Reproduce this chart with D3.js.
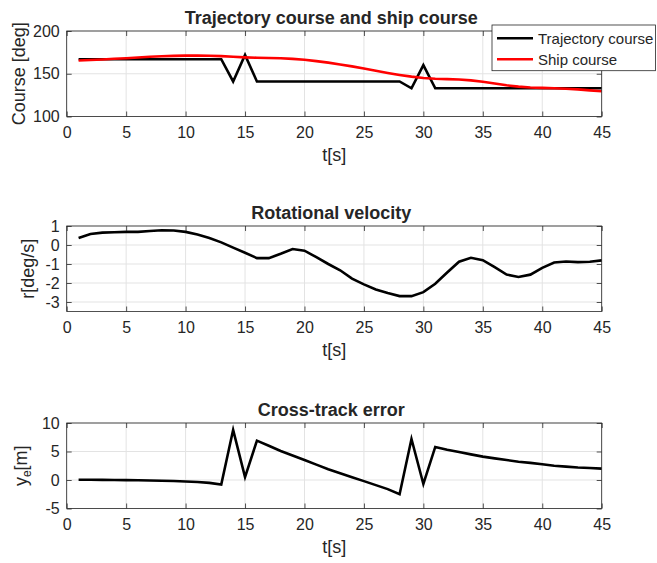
<!DOCTYPE html>
<html>
<head>
<meta charset="utf-8">
<script src="https://cdn.jsdelivr.net/npm/d3@7"></script>
<style>
  html, body { margin: 0; padding: 0; background: #fff; }
  svg { display: block; }
  text { font-family: "Liberation Sans", Arial, Helvetica, sans-serif; fill: #262626; }
</style>
</head>
<body>
<script>
// ---- data ----
const time = d3.range(1, 46); // t = 1..45 s
const trajectoryCourse = [167,167,167,167,167,167,167,167,167,167,167,167,167,141,172,141,141,141,141,141,141,141,141,141,141,141,141,141,133,160,133,133,133,133,133,133,133,133,133,133,133,133,133,133,133];
const shipCourse = [165.5,166,166.7,167.5,168.2,169,169.8,170.4,170.9,171.2,171.2,171,170.6,169.9,169.2,168.7,168.4,168.1,167.4,166.3,164.8,163,160.9,158.6,156.1,153.5,150.9,148.6,146.6,145,144.1,143.7,143.2,142.3,140.7,138.6,136.5,134.9,134,133.5,133.1,132.5,131.7,130.6,129.5];
const rotVel = [0.37,0.58,0.65,0.67,0.69,0.69,0.74,0.78,0.76,0.69,0.55,0.37,0.14,-0.14,-0.41,-0.69,-0.69,-0.46,-0.21,-0.30,-0.64,-1.0,-1.33,-1.77,-2.07,-2.34,-2.53,-2.69,-2.69,-2.48,-2.04,-1.45,-0.88,-0.67,-0.80,-1.17,-1.56,-1.68,-1.56,-1.20,-0.92,-0.87,-0.90,-0.88,-0.81];
const crossTrack = [0.05,0.04,0.02,0,-0.02,-0.05,-0.08,-0.12,-0.17,-0.25,-0.35,-0.5,-0.8,8.8,0.5,6.9,6.0,5.1,4.3,3.5,2.7,1.9,1.2,0.5,-0.2,-0.9,-1.6,-2.5,7.2,-0.7,5.8,5.3,4.9,4.5,4.1,3.8,3.5,3.2,3.0,2.75,2.5,2.35,2.2,2.1,2.0];

const xTicks = [0,5,10,15,20,25,30,35,40,45];
const courseTicks = [100,150,200];
const rotTicks = [-3,-2,-1,0,1];
const cteTicks = [-5,0,5,10];

const titles = ["Trajectory course and ship course", "Rotational velocity", "Cross-track error"];
const legendLabels = ["Trajectory course", "Ship course"];

// ---- layout ----
const W = 657, H = 563;
const left = 66.7, right = 601.7, ph = 85.5;
const tops = [31, 226, 423];
const axisColor = "#262626", gridColor = "#e3e3e3";
const fmt = d => String(d);

const svg = d3.select("body").append("svg").attr("width", W).attr("height", H);

const x = d3.scaleLinear().domain([0, 45]).range([left, right]);

function panel(i, yDomain, yTicks, ylabel, ylabelX, series) {
  const top = tops[i], bottom = top + ph;
  const y = d3.scaleLinear().domain(yDomain).range([bottom, top]);
  const g = svg.append("g");

  // grid
  g.append("g").selectAll("line").data(xTicks).join("line")
    .attr("x1", d => x(d)).attr("x2", d => x(d)).attr("y1", top).attr("y2", bottom)
    .attr("stroke", gridColor).attr("stroke-width", 1);
  g.append("g").selectAll("line").data(yTicks).join("line")
    .attr("x1", left).attr("x2", right).attr("y1", d => y(d)).attr("y2", d => y(d))
    .attr("stroke", gridColor).attr("stroke-width", 1);

  // data lines
  series.forEach(s => {
    g.append("path").datum(s.values)
      .attr("fill", "none").attr("stroke", s.color).attr("stroke-width", 2.6)
      .attr("stroke-linejoin", "miter").attr("stroke-miterlimit", 10)
      .attr("d", d3.line().x((d, k) => x(time[k])).y(d => y(d)));
  });

  // axes
  const ax = g.append("g").attr("transform", `translate(0,${bottom})`)
    .call(d3.axisBottom(x).tickValues(xTicks).tickFormat(fmt).tickSize(-5).tickPadding(10.5).tickSizeOuter(0));
  const axTop = g.append("g").attr("transform", `translate(0,${top})`)
    .call(d3.axisTop(x).tickValues(xTicks).tickSize(-5).tickFormat("").tickSizeOuter(0));
  const ay = g.append("g").attr("transform", `translate(${left},0)`)
    .call(d3.axisLeft(y).tickValues(yTicks).tickFormat(fmt).tickSize(-5).tickPadding(7).tickSizeOuter(0));
  const ayR = g.append("g").attr("transform", `translate(${right},0)`)
    .call(d3.axisRight(y).tickValues(yTicks).tickSize(-5).tickFormat("").tickSizeOuter(0));
  [ax, axTop, ay, ayR].forEach(a => {
    a.select(".domain").remove();
    a.selectAll(".tick line").attr("stroke", axisColor).attr("stroke-width", 0.8);
    a.selectAll(".tick text").attr("font-size", 16).attr("fill", axisColor)
      .attr("font-family", '"Liberation Sans", Arial, sans-serif');
  });

  // box
  g.append("rect").attr("x", left).attr("y", top).attr("width", right - left).attr("height", ph)
    .attr("fill", "none").attr("stroke", axisColor).attr("stroke-width", 0.8);

  // title
  g.append("text").attr("x", (left + right) / 2 - 3).attr("y", top - 7.5)
    .attr("text-anchor", "middle").attr("font-size", 18).attr("font-weight", "bold")
    .attr("fill", "#000").text(titles[i]);

  // x label
  g.append("text").attr("x", (left + right) / 2).attr("y", bottom + 44)
    .attr("text-anchor", "middle").attr("font-size", 18).text("t[s]");

  // y label
  const yl = g.append("text")
    .attr("transform", `translate(${ylabelX},${(top + bottom) / 2}) rotate(-90)`)
    .attr("text-anchor", "middle").attr("font-size", 18);
  ylabel(yl);
  return { y, g };
}

panel(0, [100, 200], courseTicks, t => t.text("Course [deg]"), 25, [
  { values: trajectoryCourse, color: "#000000" },
  { values: shipCourse, color: "#ff0000" }
]);
panel(1, [-3.5, 1], rotTicks, t => t.text("r[deg/s]"), 34, [
  { values: rotVel, color: "#000000" }
]);
panel(2, [-5, 10], cteTicks, t => {
  t.append("tspan").text("y");
  t.append("tspan").attr("font-size", 12).attr("dy", 4).text("e");
  t.append("tspan").attr("dy", -4).text("[m]");
}, 26.5, [
  { values: crossTrack, color: "#000000" }
]);

// legend
const lg = svg.append("g");
lg.append("rect").attr("x", 492).attr("y", 25).attr("width", 163.5).attr("height", 45.7)
  .attr("fill", "#fff").attr("stroke", axisColor).attr("stroke-width", 0.8);
const legendColors = ["#000000", "#ff0000"];
legendLabels.forEach((lab, k) => {
  const yy = 38.3 + k * 21;
  lg.append("line").attr("x1", 497).attr("x2", 533).attr("y1", yy).attr("y2", yy)
    .attr("stroke", legendColors[k]).attr("stroke-width", 2.6);
  lg.append("text").attr("x", 538).attr("y", yy).attr("dy", "0.36em")
    .attr("font-size", 15).attr("fill", "#000").text(lab);
});
</script>
</body>
</html>
